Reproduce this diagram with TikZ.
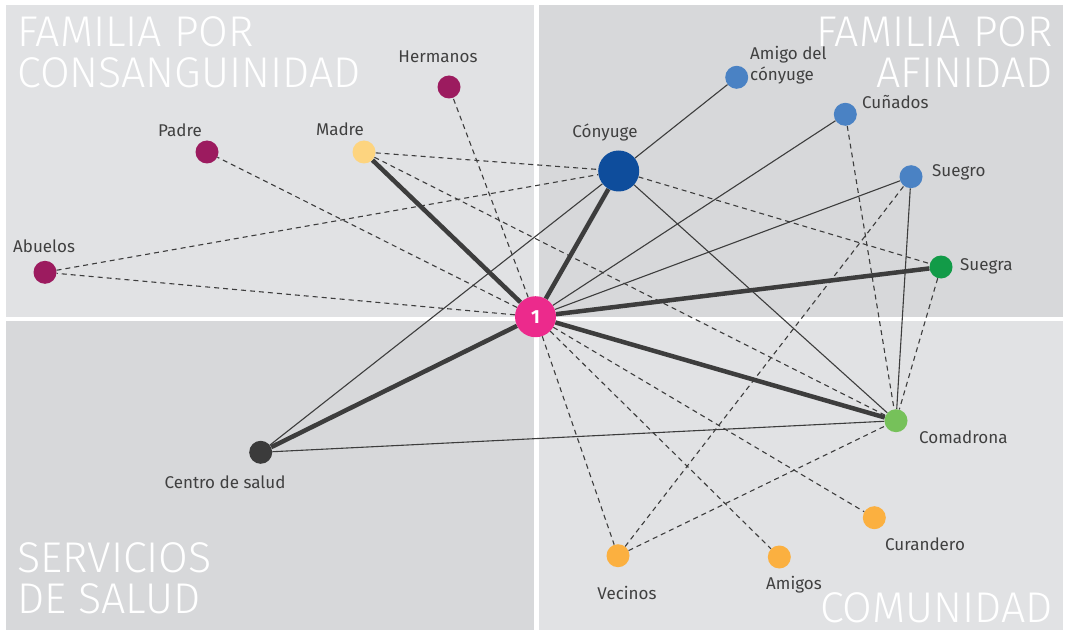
\documentclass[tikz,border=0pt]{standalone}
\usepackage{fontspec}
\setmainfont{Fira Sans}
\newfontfamily\titlefont{Fira Sans Light}
\usetikzlibrary{backgrounds}

\definecolor{paneA}{HTML}{E1E2E4}
\definecolor{paneB}{HTML}{D7D8DA}
\definecolor{edgegray}{HTML}{3D3D3D}
\definecolor{lbltext}{HTML}{404040}
\definecolor{egopink}{HTML}{EC2A8C}
\definecolor{spouseblue}{HTML}{0E4D9C}
\definecolor{motheryellow}{HTML}{FDD47F}
\definecolor{bloodred}{HTML}{9C1B5F}
\definecolor{inlawblue}{HTML}{4A82C4}
\definecolor{inlawgreen}{HTML}{129B48}
\definecolor{midwifegreen}{HTML}{76C15A}
\definecolor{communityorange}{HTML}{FBB040}
\definecolor{clinicgray}{HTML}{3B3B3B}

\begin{document}
\begin{tikzpicture}[x=1pt, y=-1pt,
    actor/.style={circle, inner sep=0pt, minimum size=23pt},
    egonode/.style={circle, inner sep=0pt, minimum size=41pt, fill=egopink, text=white,
      font=\bfseries\fontsize{19}{19}\selectfont},
    lbl/.style={inner sep=0pt, text=lbltext, font=\fontsize{17}{21}\selectfont},
    paneltitle/.style={inner sep=0pt, text=white, align=left,
      font=\titlefont\fontsize{43}{41}\selectfont},
    strong/.style={line width=4.5pt, draw=edgegray},
    weak/.style={line width=1.1pt, draw=edgegray},
    loose/.style={line width=1.1pt, draw=edgegray, dash pattern=on 5pt off 4pt}]
  \useasboundingbox (0,0) rectangle (1065,631);

  % Quadrants
  \begin{scope}[on background layer]
    \fill[white] (0,0) rectangle (1065,631);
    \fill[paneA] (6,5) rectangle (534,316.5);
    \fill[paneB] (539,5) rectangle (1063,316.5);
    \fill[paneB] (6,321) rectangle (534,630);
    \fill[paneA] (539,321) rectangle (1063,630);
  \end{scope}

  \node[paneltitle, anchor=south west] (t-blood) at (17,88) {FAMILIA POR\\CONSANGUINIDAD};
  \node[paneltitle, anchor=south east, align=right] (t-affinity) at (1053,88) {FAMILIA POR\\AFINIDAD};
  \node[paneltitle, anchor=south west] (t-health) at (17,614) {SERVICIOS\\DE SALUD};
  \node[paneltitle, anchor=base east] (t-community) at (1053,622) {COMUNIDAD};

  % Actors
  \node[egonode] (ego) at (535.5,316.7) {1};
  \node[actor, minimum size=41pt, fill=spouseblue] (conyuge) at (618.7,171) {};
  \foreach \n/\x/\y/\c in {padre/207/152/bloodred, hermanos/449/87/bloodred,
      abuelos/45/272.3/bloodred, madre/364/152/motheryellow,
      amigocony/736.7/77.3/inlawblue, cunados/845.3/114.3/inlawblue,
      suegro/911/176.7/inlawblue, suegra/941/267/inlawgreen,
      comadrona/896/420.7/midwifegreen, curandero/874.3/517.7/communityorange,
      amigos/779.3/557/communityorange, vecinos/618/555.7/communityorange,
      centro/260.7/452.3/clinicgray} {
    \node[actor, fill=\c] (\n) at (\x,\y) {};
  }

  % Labels
  \foreach \n/\x/\y/\a/\t in {padre/180/137/base/Padre, madre/340/136/base/Madre,
      hermanos/438/63/base/Hermanos, abuelos/13/252/base west/Abuelos,
      conyuge/605/138/base/Cónyuge, cunados/862/109/base west/Cuñados,
      suegro/932/177/base west/Suegro, suegra/960/270/base west/Suegra,
      comadrona/919/443/base west/Comadrona, curandero/885/550/base west/Curandero,
      amigos/794/589/base/Amigos, vecinos/627/599/base/Vecinos,
      centro/225/488/base/Centro de salud} {
    \node[lbl, anchor=\a] (\n-l) at (\x,\y) {\t};
  }
  \node[lbl, anchor=north west, align=left] (amigocony-l) at (750,46) {Amigo del\\cónyuge};

  % Ties
  \begin{scope}[on background layer]
    \foreach \a/\b in {ego/padre, ego/abuelos, ego/hermanos, madre/conyuge,
        madre/comadrona, abuelos/conyuge, conyuge/suegra, ego/vecinos,
        ego/amigos, ego/curandero, vecinos/comadrona, vecinos/suegro,
        cunados/comadrona, suegra/comadrona} {
      \draw[loose] (\a) -- (\b);
    }
    \foreach \a/\b in {conyuge/amigocony, conyuge/comadrona, conyuge/centro,
        centro/comadrona, ego/cunados, ego/suegro, suegro/comadrona} {
      \draw[weak] (\a) -- (\b);
    }
    \foreach \b in {madre, conyuge, suegra, comadrona, centro} {
      \draw[strong] (ego) -- (\b);
    }
  \end{scope}
\end{tikzpicture}
\end{document}
